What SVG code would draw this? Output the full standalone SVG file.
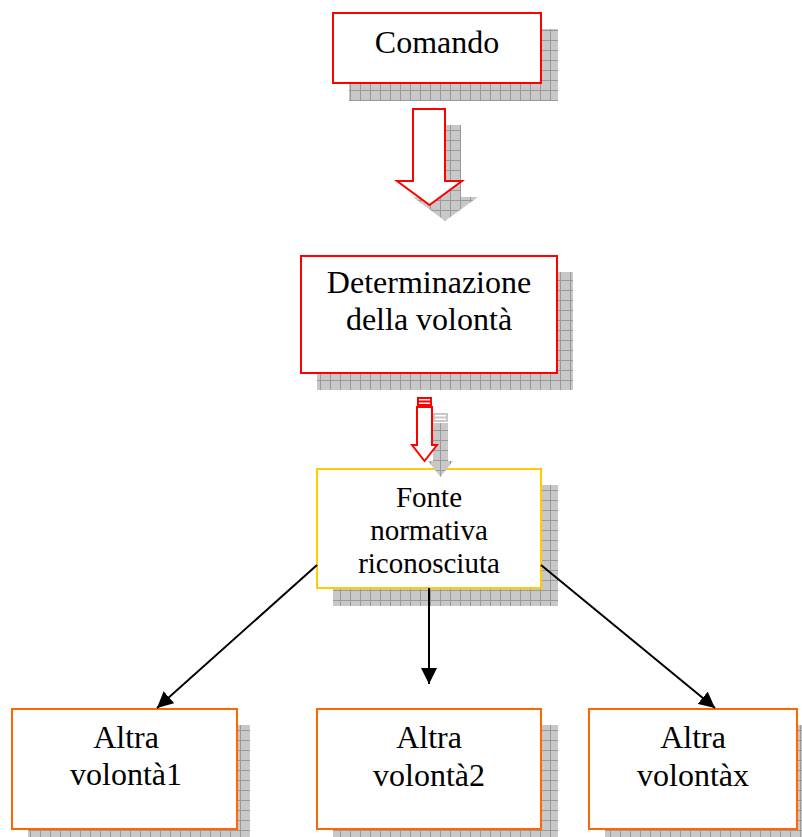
<svg xmlns="http://www.w3.org/2000/svg" width="802" height="837" viewBox="0 0 802 837">
<defs>
<pattern id="grid" patternUnits="userSpaceOnUse" width="10" height="10">
<rect width="10" height="10" fill="#c8c8c8"/>
<path d="M0 0.5H10M0.5 0V10" stroke="#9a9a9a" stroke-width="1" fill="none"/>
</pattern>
<marker id="ah" markerUnits="userSpaceOnUse" markerWidth="16" markerHeight="16" viewBox="0 0 16 16" refX="16" refY="8" orient="auto">
<path d="M0 0L16 8L0 16Z" fill="#000"/>
</marker>
</defs>
<style>
.sh{fill:url(#grid);stroke:none}
.box{fill:#fff;stroke-width:2}
.red{stroke:#ff0000}
.yel{stroke:#ffcc00}
.org{stroke:#ff6600}
.t{font-family:"Liberation Serif","Times New Roman",serif;font-size:32px;fill:#000;text-anchor:middle}
.t29{font-size:29px}
.con{stroke:#000;stroke-width:2;fill:none}
.arr{fill:#fff;stroke:#ff0000;stroke-width:2}
</style>

<g id="comando">
<rect class="sh" x="349" y="29" width="209" height="72"/>
<rect class="box red" x="333" y="13" width="208" height="70"/>
<text class="t" x="437" y="53">Comando</text>
</g>

<g id="freccia1">
<path class="sh" d="M429 125H461V197H478L445 221L413 197H429Z"/>
<path class="arr" d="M413 109H445V181H462L429.5 205L397 181H413Z"/>
</g>

<g id="determinazione">
<rect class="sh" x="317" y="272" width="256" height="118"/>
<rect class="box red" x="301" y="256" width="256" height="117"/>
<text class="t" x="429" y="293">Determinazione</text>
<text class="t" x="429" y="330">della volontà</text>
</g>

<g id="fonte">
<rect class="sh" x="333" y="485" width="225" height="121"/>
<rect class="box yel" x="317" y="469" width="224" height="119"/>
<text class="t t29" x="429" y="507">Fonte</text>
<text class="t t29" x="429" y="540">normativa</text>
<text class="t t29" x="429" y="573">riconosciuta</text>
</g>

<g id="freccia2">
<path class="sh" d="M433 423H448V461H453L440.5 477L428 461H433Z"/>
<rect x="433" y="413" width="15" height="9" fill="#c8c8c8"/>
<rect x="435" y="415" width="11" height="1.5" fill="#fff"/>
<rect x="435" y="418.5" width="11" height="1.5" fill="#fff"/>
<path class="arr" d="M417 407H432V445H437L424.5 461L412 445H417Z"/>
<rect x="417" y="397" width="15" height="9" fill="#ff0000"/>
<rect x="419" y="399" width="11" height="1.5" fill="#fff"/>
<rect x="419" y="402.5" width="11" height="1.5" fill="#fff"/>
</g>

<g id="altra1">
<rect class="sh" x="28" y="725" width="222" height="120"/>
<rect class="box org" x="12" y="709" width="225" height="120"/>
<text class="t" x="126" y="748">Altra</text>
<text class="t" x="126" y="785">volontà1</text>
</g>

<g id="altra2">
<rect class="sh" x="333" y="725" width="225" height="120"/>
<rect class="box org" x="317" y="709" width="224" height="120"/>
<text class="t" x="429" y="748">Altra</text>
<text class="t" x="429" y="786">volontà2</text>
</g>

<g id="altrax">
<rect class="sh" x="605" y="725" width="210" height="120"/>
<rect class="box org" x="589" y="709" width="208" height="120"/>
<text class="t" x="693" y="748">Altra</text>
<text class="t" x="693" y="786">volontàx</text>
</g>

<g id="connectors">
<line class="con" x1="317" y1="565" x2="157" y2="708" marker-end="url(#ah)"/>
<line class="con" x1="429" y1="588" x2="429" y2="684" marker-end="url(#ah)"/>
<line class="con" x1="541" y1="565" x2="715" y2="708" marker-end="url(#ah)"/>
</g>
</svg>
